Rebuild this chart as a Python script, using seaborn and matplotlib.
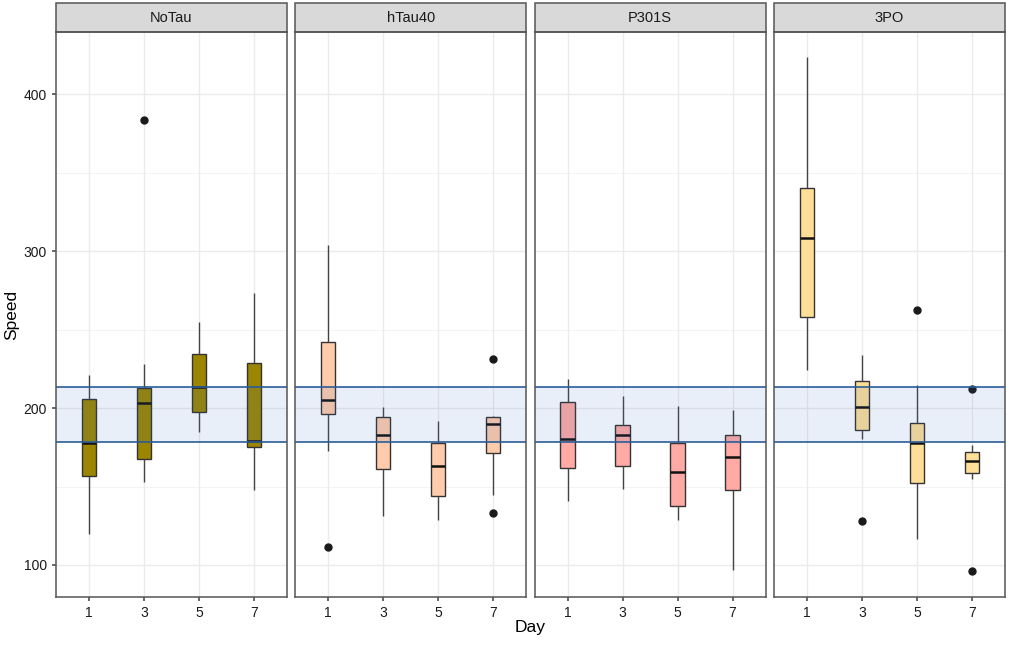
import numpy as np
import pandas as pd
import matplotlib
matplotlib.use("Agg")
import matplotlib.pyplot as plt
import seaborn as sns
from matplotlib.patches import Rectangle

# groups, days and box summaries
groups = ["NoTau", "hTau40", "P301S", "3PO"]
days = ["1", "3", "5", "7"]
group_colors = ["#9C8500", "#FFCBAA", "#FFAAA4", "#FFDE98"]

# per group, per day: lower whisker, q1, median, q3, upper whisker
whisker_low = {
    "NoTau": [119.5, 153, 184.5, 148],
    "hTau40": [172.5, 131, 128.5, 144.5],
    "P301S": [141, 148.5, 128.5, 97],
    "3PO": [224, 180, 116.5, 155],
}
q1 = {
    "NoTau": [156.5, 167.5, 197.5, 175],
    "hTau40": [196, 161, 144, 171.5],
    "P301S": [162, 163, 137.5, 148],
    "3PO": [258, 186, 152.5, 158.5],
}
median = {
    "NoTau": [177.5, 203.5, 213.5, 179],
    "hTau40": [205, 183, 163, 190],
    "P301S": [180.5, 183, 159, 169],
    "3PO": [308.5, 200.5, 177.5, 166],
}
q3 = {
    "NoTau": [206, 213, 234.5, 229],
    "hTau40": [242, 194, 178, 194.5],
    "P301S": [204, 189, 178, 183],
    "3PO": [340.5, 217.5, 190.5, 172],
}
whisker_high = {
    "NoTau": [221, 228, 255, 273.5],
    "hTau40": [304, 201, 191.5, 195],
    "P301S": [218.5, 207.5, 201.5, 199],
    "3PO": [423.5, 234, 214.5, 176.5],
}
outliers = {
    "NoTau": [[], [383.5], [], []],
    "hTau40": [[111.5], [], [], [231.5, 133]],
    "P301S": [[], [], [], []],
    "3PO": [[], [128], [262.5], [212, 96]],
}

band_low, band_high = 178.5, 213.5

# long table: each summary value repeated so the quartiles land on them
rows = []
for g in groups:
    for i, d in enumerate(days):
        vals = []
        for src in (whisker_low, q1, median, q3, whisker_high):
            vals += [src[g][i]] * 4
        vals += outliers[g][i]
        for v in vals:
            rows.append({"Group": g, "Day": d, "Speed": v})
df = pd.DataFrame(rows)

sns.set_theme(style="white")
plt.rcParams["font.family"] = ["Liberation Sans", "DejaVu Sans"]

fig, axes = plt.subplots(1, 4, figsize=(10.1, 6.45), dpi=100, sharey=True)
fig.subplots_adjust(left=0.0554, right=0.995, bottom=0.0744, top=0.950, wspace=0.036)

for ax, g, col in zip(axes, groups, group_colors):
    sub = df[df["Group"] == g]
    # grid like theme_bw
    for yv in [100, 200, 300, 400]:
        ax.axhline(yv, color="#EBEBEB", lw=1.0, zorder=0)
    for yv in [150, 250, 350]:
        ax.axhline(yv, color="#F3F3F3", lw=0.7, zorder=0)
    for xv in range(len(days)):
        ax.axvline(xv, color="#EBEBEB", lw=1.0, zorder=0)

    sns.boxplot(data=sub, x="Day", y="Speed", order=days, color=col,
                width=0.26, linecolor="#333333", linewidth=1.0, saturation=1,
                showcaps=False, fliersize=5, ax=ax,
                medianprops={"color": "#111111", "linewidth": 1.8},
                whiskerprops={"color": "#444444", "linewidth": 1.0},
                flierprops={"marker": "o", "markerfacecolor": "#1A1A1A",
                            "markeredgecolor": "#1A1A1A", "markersize": 5})

    ax.axhspan(band_low, band_high, facecolor="#3C6FC0", alpha=0.11,
               edgecolor="none", zorder=5)
    ax.axhline(band_low, color="#2B5C99", lw=1.2, zorder=6)
    ax.axhline(band_high, color="#2B5C99", lw=1.2, zorder=6)

    ax.set_xlim(-0.6, 3.6)
    ax.set_ylim(79.6, 439.5)
    ax.set_xlabel("")
    ax.set_ylabel("")
    for s in ax.spines.values():
        s.set_color("#555555")
        s.set_linewidth(1.1)
        s.set_zorder(7)
    ax.tick_params(axis="both", length=3, color="#555555", labelsize=10,
                   labelcolor="#1A1A1A", bottom=True, left=True)

    # facet strip
    strip = Rectangle((0, 1.0), 1, 0.0513, transform=ax.transAxes,
                      facecolor="#D9D9D9", edgecolor="#555555", lw=1.1,
                      clip_on=False)
    ax.add_patch(strip)
    ax.text(0.5, 1.0256, g, transform=ax.transAxes, ha="center", va="center",
            fontsize=10.5, color="#1A1A1A")

axes[0].set_yticks([100, 200, 300, 400])
for ax in axes[1:]:
    ax.tick_params(axis="y", left=False, labelleft=False)

fig.text(0.0554 + (0.995 - 0.0554) / 2, 0.016, "Day", ha="center", va="bottom",
         fontsize=12.5, color="#000000")
fig.text(0.004, 0.512, "Speed", ha="left", va="center", rotation=90,
         fontsize=12.5, color="#000000")

fig.savefig("out.png", dpi=100, facecolor="white")
